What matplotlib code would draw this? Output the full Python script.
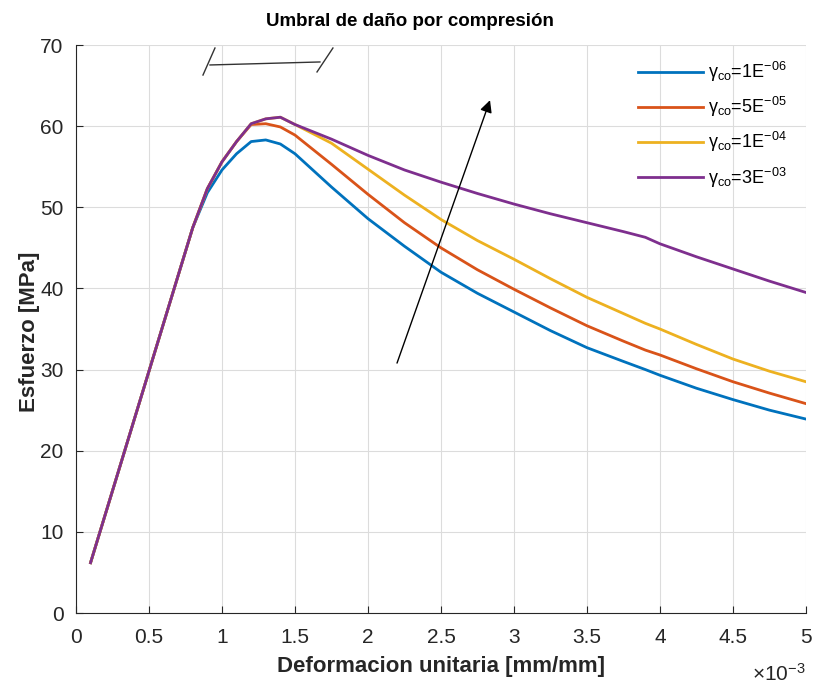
import matplotlib
matplotlib.use("Agg")
import matplotlib.pyplot as plt

plt.rcParams['font.family'] = ['Liberation Sans', 'DejaVu Sans']
plt.rcParams['mathtext.fontset'] = 'custom'
plt.rcParams['mathtext.rm'] = 'Liberation Sans'
plt.rcParams['mathtext.it'] = 'Liberation Sans'

# strain in units of 1e-3 mm/mm
strain = [0.1, 0.8, 0.9, 1.0, 1.1, 1.2, 1.3, 1.4, 1.5, 1.75, 2.0, 2.25, 2.5,
          2.75, 3.0, 3.25, 3.5, 3.75, 3.9, 4.0, 4.25, 4.5, 4.75, 5.0]

s_1e06 = [6.2, 47.5, 51.8, 54.6, 56.6, 58.1, 58.3, 57.8, 56.6, 52.5, 48.6, 45.2, 42.0,
          39.4, 37.1, 34.8, 32.7, 31.0, 30.0, 29.3, 27.7, 26.3, 25.0, 23.9]
s_5e05 = [6.2, 47.5, 52.3, 55.6, 58.1, 60.2, 60.3, 59.9, 58.9, 55.3, 51.6, 48.1, 45.0,
          42.3, 39.9, 37.6, 35.4, 33.5, 32.4, 31.8, 30.1, 28.5, 27.1, 25.8]
s_1e04 = [6.2, 47.5, 52.3, 55.6, 58.1, 60.3, 60.9, 61.1, 60.2, 57.9, 54.7, 51.5, 48.5,
          45.9, 43.6, 41.2, 38.9, 36.9, 35.7, 35.0, 33.1, 31.3, 29.8, 28.5]
s_3e03 = [6.2, 47.5, 52.3, 55.6, 58.1, 60.3, 60.9, 61.1, 60.2, 58.4, 56.4, 54.6, 53.1,
          51.7, 50.4, 49.2, 48.1, 47.0, 46.3, 45.5, 43.9, 42.4, 40.9, 39.5]

series = [s_1e06, s_5e05, s_1e04, s_3e03]
labels = [r'γ$_{\mathrm{co}}$=1E$^{\mathrm{-06}}$', r'γ$_{\mathrm{co}}$=5E$^{\mathrm{-05}}$',
          r'γ$_{\mathrm{co}}$=1E$^{\mathrm{-04}}$', r'γ$_{\mathrm{co}}$=3E$^{\mathrm{-03}}$']
colors = ['#0072BD', '#D95319', '#EDB120', '#7E2F8E']

x_ticks = [0, 0.5, 1, 1.5, 2, 2.5, 3, 3.5, 4, 4.5, 5]
x_ticklabels = ['0', '0.5', '1', '1.5', '2', '2.5', '3', '3.5', '4', '4.5', '5']
y_ticks = [0, 10, 20, 30, 40, 50, 60, 70]

fig = plt.figure(figsize=(8.16, 6.84), dpi=100)
ax = fig.add_axes([0.0931, 0.1038, 0.8946, 0.8304])

for vals, lab, c in zip(series, labels, colors):
  ax.plot(strain, vals, color=c, linewidth=2.0, label=lab)

ax.set_xlim(0, 5)
ax.set_ylim(0, 70)
ax.set_xticks(x_ticks)
ax.set_xticklabels(x_ticklabels)
ax.set_yticks(y_ticks)
ax.tick_params(direction='in', labelsize=15, colors='#262626', length=5, width=0.8)
ax.tick_params(axis='x', pad=11)
ax.tick_params(axis='y', pad=9)
ax.grid(True, color='#DCDCDC', linewidth=0.8)
ax.set_axisbelow(True)
for side in ['top', 'right']:
  ax.spines[side].set_visible(False)
for side in ['left', 'bottom']:
  ax.spines[side].set_color('#262626')
  ax.spines[side].set_linewidth(0.8)

ax.set_xlabel('Deformacion unitaria [mm/mm]', fontsize=16, fontweight='bold',
              color='#262626', va='center')
ax.xaxis.set_label_coords(0.5, -0.0935)
ax.set_ylabel('Esfuerzo [MPa]', fontsize=16, fontweight='bold', color='#262626',
              va='center')
ax.yaxis.set_label_coords(-0.064, 0.495)
fig.text(410 / 816, 1 - 26 / 684, 'Umbral de daño por compresión', fontsize=13.5,
         fontweight='bold', color='black', ha='center', va='baseline')
ax.text(1.0, -0.107, r'$\times\mathregular{10^{-3}}$', transform=ax.transAxes,
        ha='right', va='center', fontsize=15, color='#262626')

# break marks over the peak zone
ax.plot([0.918, 1.671], [67.54, 67.91], color='#333333', linewidth=1.0, clip_on=False)
ax.plot([0.870, 0.952], [66.3, 69.63], color='#333333', linewidth=1.0, clip_on=False)
ax.plot([1.651, 1.760], [66.68, 69.63], color='#333333', linewidth=1.0, clip_on=False)

# trend arrow
ax.annotate('', xy=(2.836, 63.2), xytext=(2.199, 30.8),
            arrowprops=dict(arrowstyle='-|>', color='black', lw=1.0,
                            mutation_scale=18, shrinkA=0, shrinkB=0))

leg = ax.legend(loc='upper left', bbox_to_anchor=(0.770, 0.974), frameon=False,
                fontsize=13, handlelength=3.6, labelspacing=0.62, handletextpad=0.28,
                borderpad=0, borderaxespad=0)

fig.savefig('out.png', dpi=100)
